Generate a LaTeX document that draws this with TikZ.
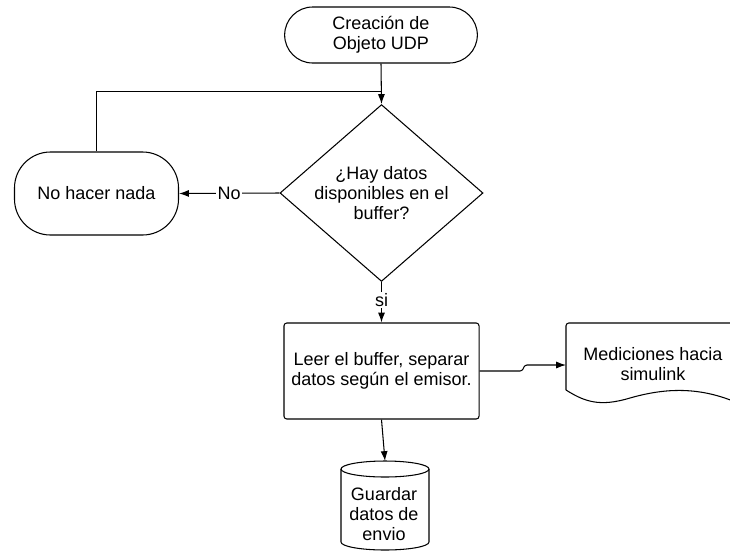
\documentclass[tikz,border=0pt]{standalone}
\usepackage{fontspec}
\setmainfont{Liberation Sans}
\usetikzlibrary{shapes.geometric,shapes.misc,arrows.meta}
\begin{document}
\begin{tikzpicture}[>={Latex[length=7pt,width=5pt]}, x=0.025cm, y=-0.025cm, line width=0.75pt,
    every node/.style={font=\fontsize{12.8}{14.5}\selectfont, align=center},
    terminal/.style={draw, rounded rectangle, minimum width=5.05cm, minimum height=1.4cm},
    waitbox/.style={draw, rectangle, rounded corners=0.9cm, minimum width=4.1cm, minimum height=2.075cm},
    decision/.style={draw, diamond, inner sep=-2pt, minimum width=5.075cm, minimum height=3.75cm},
    procbox/.style={draw, rectangle, rounded corners=2pt, minimum width=4.875cm, minimum height=2.4cm},
    lbl/.style={fill=white, inner sep=1pt}]
    \useasboundingbox (0,0) rectangle (730,554);
    % formas
    \node[terminal] (start) at (381,35) {Creación de\\Objeto UDP};
    \node[waitbox] (wait) at (96.5,193.5) {No hacer nada};
    \node[decision] (q) at (381.5,193) {¿Hay datos\\disponibles en el\\buffer?};
    \node[procbox] (proc) at (381.5,371) {Leer el buffer, separar\\datos según el emisor.};
    % documento
    \draw[rounded corners=2pt] (566,390) -- (566,323) -- (740,323) -- (740,404);
    \draw (740,404) .. controls (700,386) and (665,388) .. (630,398)
        .. controls (600,407) and (585,402) .. (566,390);
    \node (doc) at (653,364) {Mediciones hacia\\simulink};
    \coordinate (docin) at (566,365);
    % base de datos
    \draw (341,469) -- (341,542) arc (180:0:44 and 8) -- (429,469);
    \draw (385,469) ellipse (44 and 8);
    \node (store) at (384,514) {Guardar\\datos de\\envio};
    \coordinate (storein) at (385,461);
    % conexiones
    \coordinate (join) at (381,91.5);
    \draw[->] (start.south) -- (q.north);
    \draw (wait.north) |- (join);
    \draw[->] (q.west) -- node[lbl] {No} (wait.east);
    \draw[->] (q.south) -- node[lbl, pos=0.45] {si} (proc.north);
    \draw[->, rounded corners=1.5pt] (proc.east) -- (522,371) -- (525,365) -- (docin);
    \draw[->] (proc.south) -- (storein);
\end{tikzpicture}
\end{document}
